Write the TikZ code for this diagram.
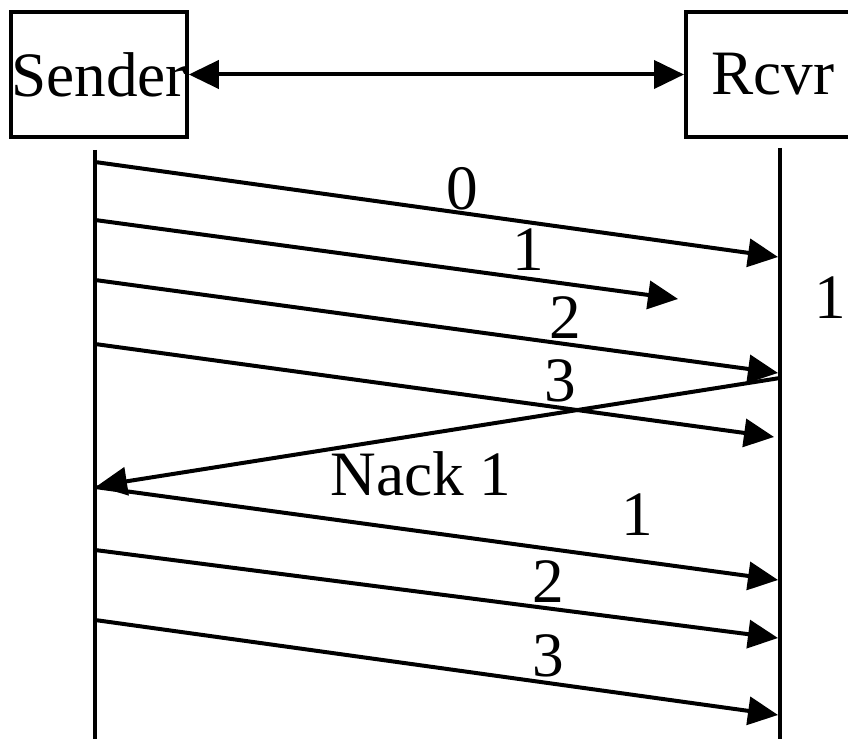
\documentclass[tikz,border=0pt]{standalone}
\usepackage{fontspec}
\setmainfont{Liberation Serif}
\usetikzlibrary{arrows.meta}
\tikzset{
	box/.style={draw,line width=0.08cm,minimum width=3.48cm,minimum height=2.5cm,inner sep=0pt,font=\fontsize{36}{40}\selectfont},
	lbl/.style={inner sep=0pt,font=\fontsize{36}{40}\selectfont},
	msg/.style={line width=0.08cm,->},
	life/.style={line width=0.08cm}
}
\begin{document}
\begin{tikzpicture}[x=0.02cm,y=-0.02cm,>={Triangle[length=0.6cm,width=0.56cm]}]
					\useasboundingbox (0,0) rectangle (848,739);
					\clip (0,0) rectangle (848,739);
					\node[box] (sender) at (99,74.5) {Sender};
					\node[box] (rcvr) at (773,74.5) {Rcvr};
					\draw[life,<->] (sender.east) -- (rcvr.west);
					
					\coordinate (stop) at (95,150);
					\coordinate (sbot) at (95,745);
					\coordinate (rtop) at (780,148);
					\coordinate (rbot) at (780,745);
					\draw[life] (stop) -- (sbot);
					\draw[life] (rtop) -- (rbot);
					
					\coordinate (s0) at (95,162);  \coordinate (r0) at (778,257);
					\coordinate (s1) at (95,220);  \coordinate (c1) at (678,299);
					\coordinate (s2) at (95,280);  \coordinate (r2) at (778,373);
					\coordinate (s3) at (95,344);  \coordinate (r3) at (774,437);
					\coordinate (rn) at (780,378); \coordinate (sn) at (97,486);
					\coordinate (s4) at (95,487);  \coordinate (r4) at (778,580);
					\coordinate (s5) at (95,550);  \coordinate (r5) at (778,638);
					\coordinate (s6) at (95,620);  \coordinate (r6) at (778,715);
					
					\draw[msg] (s0) -- (r0);
					\draw[msg] (s1) -- (c1);
					\draw[msg] (s2) -- (r2);
					\draw[msg] (s3) -- (r3);
					\draw[msg] (rn) -- (sn);
					\draw[msg] (s4) -- (r4);
					\draw[msg] (s5) -- (r5);
					\draw[msg] (s6) -- (r6);
					
					\node[lbl] (l0) at (462,189) {0};
					\node[lbl] (l1) at (528,250) {1};
					\node[lbl] (l2) at (565,318) {2};
					\node[lbl] (l3) at (560,381) {3};
					\node[lbl] (lost) at (830,298) {1};
					\node[lbl] (nack) at (421,474) {Nack 1};
					\node[lbl] (l4) at (637,515) {1};
					\node[lbl] (l5) at (548,582) {2};
					\node[lbl] (l6) at (548,656) {3};
				\end{tikzpicture}
\end{document}
